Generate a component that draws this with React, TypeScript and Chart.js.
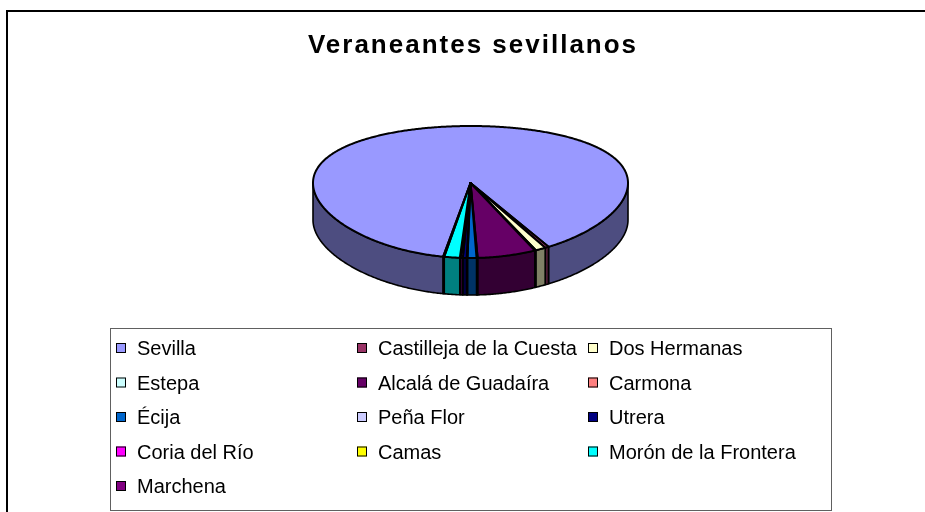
import React, { useEffect, useRef } from "react";
import { Chart, registerables } from "chart.js";

Chart.register(...registerables);

const TITLE = "Veraneantes sevillanos";
const towns = [
  "Sevilla",
  "Castilleja de la Cuesta",
  "Dos Hermanas",
  "Estepa",
  "Alcalá de Guadaíra",
  "Carmona",
  "Écija",
  "Peña Flor",
  "Utrera",
  "Coria del Río",
  "Camas",
  "Morón de la Frontera",
  "Marchena",
];
const visitors = [3203, 14, 38, 4, 215, 4, 33, 3, 14, 8, 3, 57, 4];
const sliceColors = [
  "#9999FF",
  "#993366",
  "#FFFFCC",
  "#CCFFFF",
  "#660066",
  "#FF8080",
  "#0066CC",
  "#CCCCFF",
  "#000080",
  "#FF00FF",
  "#FFFF00",
  "#00FFFF",
  "#800080",
];

const FONT = "Arial, 'Liberation Sans', sans-serif";

function shade(hex: string, f: number): string {
  const n = parseInt(hex.slice(1), 16);
  const r = Math.round(((n >> 16) & 255) * f);
  const g = Math.round(((n >> 8) & 255) * f);
  const b = Math.round((n & 255) * f);
  return `rgb(${r},${g},${b})`;
}

const pie3d = {
  id: "pie3d",
  beforeDatasetsDraw(chart: any, _args: any, opts: any) {
    const meta = chart.getDatasetMeta(0);
    const ctx = chart.ctx as CanvasRenderingContext2D;
    const colors = chart.data.datasets[0].backgroundColor as string[];
    const { tilt, depth, persp } = opts;
    const c = persp;

    // vertical perspective only: the far edge is compressed, the near edge stretched
    const proj = (x: number, y: number, rx: number, ry: number, t: number, dy: number) => {
      const u = Math.cos(t);
      const v = Math.sin(t);
      return [x + rx * u, y + (ry * (v - c)) / (1 - c * v) + dy];
    };
    const arcPts = (x: number, y: number, rx: number, ry: number, s: number, e: number, dy: number) => {
      const n = Math.max(2, Math.ceil(((e - s) * 180) / Math.PI / 0.5));
      const pts: number[][] = [];
      for (let j = 0; j <= n; j++) pts.push(proj(x, y, rx, ry, s + ((e - s) * j) / n, dy));
      return pts;
    };

    ctx.save();
    ctx.lineJoin = "round";
    ctx.strokeStyle = "#000";
    // side walls (front half)
    ctx.lineWidth = 1.6;
    meta.data.forEach((arc: any, i: number) => {
      const { x, y, startAngle, endAngle, outerRadius } = arc.getProps(
        ["x", "y", "startAngle", "endAngle", "outerRadius"],
        true
      );
      const rx = outerRadius;
      const ry = outerRadius * tilt;
      for (let k = -2; k <= 3; k++) {
        const s = Math.max(startAngle, 2 * Math.PI * k);
        const e = Math.min(endAngle, 2 * Math.PI * k + Math.PI);
        if (e > s) {
          const top = arcPts(x, y, rx, ry, s, e, 0);
          const bot = arcPts(x, y, rx, ry, s, e, depth).reverse();
          ctx.beginPath();
          top.forEach((p, j) => (j ? ctx.lineTo(p[0], p[1]) : ctx.moveTo(p[0], p[1])));
          bot.forEach((p) => ctx.lineTo(p[0], p[1]));
          ctx.closePath();
          ctx.fillStyle = shade(colors[i], 0.5);
          ctx.fill();
          ctx.stroke();
        }
      }
    });
    // top faces
    ctx.lineWidth = 2;
    meta.data.forEach((arc: any, i: number) => {
      const { x, y, startAngle, endAngle, outerRadius } = arc.getProps(
        ["x", "y", "startAngle", "endAngle", "outerRadius"],
        true
      );
      const rx = outerRadius;
      const ry = outerRadius * tilt;
      const apexY = y - ry * c;
      const pts = arcPts(x, y, rx, ry, startAngle, endAngle, 0);
      ctx.beginPath();
      ctx.moveTo(x, apexY);
      pts.forEach((p) => ctx.lineTo(p[0], p[1]));
      ctx.closePath();
      ctx.fillStyle = colors[i];
      ctx.fill();
      ctx.stroke();
    });
    ctx.restore();
    return false;
  },
};

const frameTitleLegend = {
  id: "frameTitleLegend",
  afterDraw(chart: any, _args: any, o: any) {
    const ctx = chart.ctx as CanvasRenderingContext2D;
    ctx.save();
    // outer frame
    ctx.strokeStyle = "#000";
    ctx.lineWidth = 2;
    ctx.strokeRect(7, 11, 960, 540);
    // title
    ctx.fillStyle = "#000";
    ctx.font = `bold 26px ${FONT}`;
    (ctx as any).letterSpacing = "2px";
    ctx.textAlign = "center";
    ctx.textBaseline = "alphabetic";
    ctx.fillText(TITLE, o.titleX, o.titleY);
    (ctx as any).letterSpacing = "0px";
    // legend box
    ctx.strokeStyle = "#606060";
    ctx.lineWidth = 1;
    ctx.strokeRect(o.box[0] + 0.5, o.box[1] + 0.5, o.box[2], o.box[3]);
    const labels = chart.data.labels as string[];
    const colors = chart.data.datasets[0].backgroundColor as string[];
    ctx.font = `20px ${FONT}`;
    ctx.textAlign = "left";
    labels.forEach((lab, i) => {
      const col = i % 3;
      const row = Math.floor(i / 3);
      const sx = o.cols[col];
      const cy = o.rowTop + row * o.rowH;
      ctx.fillStyle = colors[i];
      ctx.fillRect(sx, cy - 5, 10, 10);
      ctx.strokeStyle = "#000";
      ctx.lineWidth = 1;
      ctx.strokeRect(sx + 0.5, cy - 4.5, 9, 9);
      ctx.fillStyle = "#000";
      ctx.fillText(lab, sx + 21, cy + 7);
    });
    ctx.restore();
  },
};

export default function App() {
  const ref = useRef<HTMLCanvasElement | null>(null);
  useEffect(() => {
    if (!ref.current) return;
    const chart = new Chart(ref.current, {
      type: "pie",
      data: {
        labels: towns,
        datasets: [
          {
            data: visitors,
            backgroundColor: sliceColors,
            borderColor: "#000",
            borderWidth: 0,
            radius: 157.5,
          } as any,
        ],
      },
      options: {
        animation: false,
        responsive: false,
        rotation: 190,
        layout: { padding: { left: 16, right: 0, top: 0, bottom: 128 } },
        plugins: {
          legend: { display: false },
          title: { display: false },
          tooltip: { enabled: false },
          pie3d: { tilt: 0.419, depth: 37, persp: 0.136 },
          frameTitleLegend: {
            titleX: 473,
            titleY: 53,
            box: [110, 328, 721, 182],
            cols: [116, 357, 588],
            rowTop: 348,
            rowH: 34.5,
          },
        } as any,
      },
      plugins: [pie3d, frameTitleLegend],
    });
    return () => chart.destroy();
  }, []);
  return (
    <div style={{ position: "fixed", left: 0, top: 0, width: 925, height: 512, background: "#fff" }}>
      <canvas ref={ref} width={925} height={512} style={{ width: 925, height: 512, display: "block" }} />
    </div>
  );
}
